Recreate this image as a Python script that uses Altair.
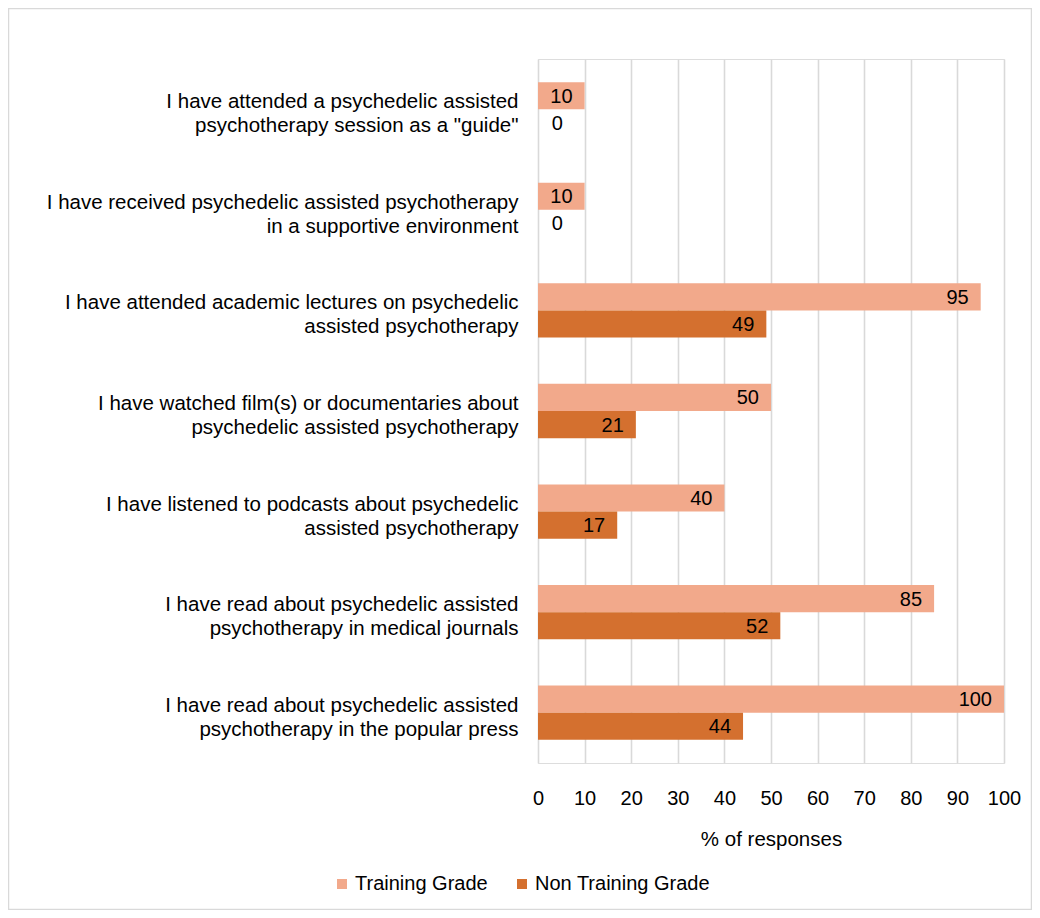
import altair as alt
import pandas as pd

categories = [
    'I have attended a psychedelic assisted|psychotherapy session as a "guide"',
    'I have received psychedelic assisted psychotherapy|in a supportive environment',
    'I have attended academic lectures on psychedelic|assisted psychotherapy',
    'I have watched film(s) or documentaries about|psychedelic assisted psychotherapy',
    'I have listened to podcasts about psychedelic|assisted psychotherapy',
    'I have read about psychedelic assisted|psychotherapy in medical journals',
    'I have read about psychedelic assisted|psychotherapy in the popular press',
]
series = ["Training Grade", "Non Training Grade"]
training = [10, 10, 95, 50, 40, 85, 100]
non_training = [0, 0, 49, 21, 17, 52, 44]
x_ticks = [0, 10, 20, 30, 40, 50, 60, 70, 80, 90, 100]
colors = ["#F2A98B", "#D4702F"]

rows = []
for c, t, n in zip(categories, training, non_training):
    rows.append({"cat": c, "series": series[0], "value": t})
    rows.append({"cat": c, "series": series[1], "value": n})
df = pd.DataFrame(rows)

W, H = 466, 704
FONT = "Liberation Sans"
FS = 20

y_enc = alt.Y("cat:N", sort=categories,
              scale=alt.Scale(paddingInner=0.46, paddingOuter=0.23),
              axis=alt.Axis(title=None, labelExpr="split(datum.label, '|')",
                            labelFontSize=20.5, labelFont=FONT, labelColor="#000000",
                            labelLineHeight=24, labelPadding=20, labelOffset=-7,
                            ticks=False, domain=False, grid=False, labelLimit=600))
yoff = alt.YOffset("series:N", sort=series, scale=alt.Scale(paddingInner=0, paddingOuter=0))

bars = alt.Chart(df).mark_bar(stroke=None).encode(
    x=alt.X("value:Q", scale=alt.Scale(domain=[0, 100]),
            axis=alt.Axis(values=x_ticks, title="% of responses", titleFontSize=20.5,
                          titleFont=FONT, titleFontWeight="normal", titleColor="#000000",
                          titlePadding=21, labelFontSize=FS, labelFont=FONT,
                          labelColor="#000000", labelPadding=25, labelFlush=False,
                          labelOverlap=False, ticks=False, domain=False,
                          grid=True, gridColor="#D9D9D9", gridWidth=1.6)),
    y=y_enc,
    yOffset=yoff,
    color=alt.Color("series:N", sort=series,
                    scale=alt.Scale(domain=series, range=colors),
                    legend=alt.Legend(title=None, orient="none", legendX=-206, legendY=815,
                                      direction="horizontal", symbolType="square",
                                      symbolSize=100, symbolStrokeWidth=0,
                                      labelFontSize=FS, labelFont=FONT, labelColor="#000000",
                                      columnPadding=24, labelOffset=3, labelLimit=400)),
)

labels = alt.Chart(df).transform_calculate(
    xpos="datum.value < 5 ? 7.9 : datum.value"
).mark_text(align="right", baseline="middle", dx=-12, dy=1, fontSize=FS, font=FONT,
            color="#000000").encode(
    x=alt.X("xpos:Q"),
    y=alt.Y("cat:N", sort=categories),
    yOffset=yoff,
    text=alt.Text("value:Q"),
)

frame = alt.Chart(alt.Data(values=[{}])).mark_rect(
    fill=None, stroke="#D9D9D9", strokeWidth=1.5
).encode(x=alt.value(-529.5), x2=alt.value(493.5), y=alt.value(-50.5), y2=alt.value(850.5))

chart = alt.layer(frame, bars, labels).properties(
    width=W, height=H,
    autosize=alt.AutoSizeParams(type="none"),
    padding={"left": 530, "top": 51, "right": 28, "bottom": 147},
).configure_view(stroke=None).configure(background="#FFFFFF")

chart.save("out.html", embed_options={"renderer": "svg", "actions": False})
